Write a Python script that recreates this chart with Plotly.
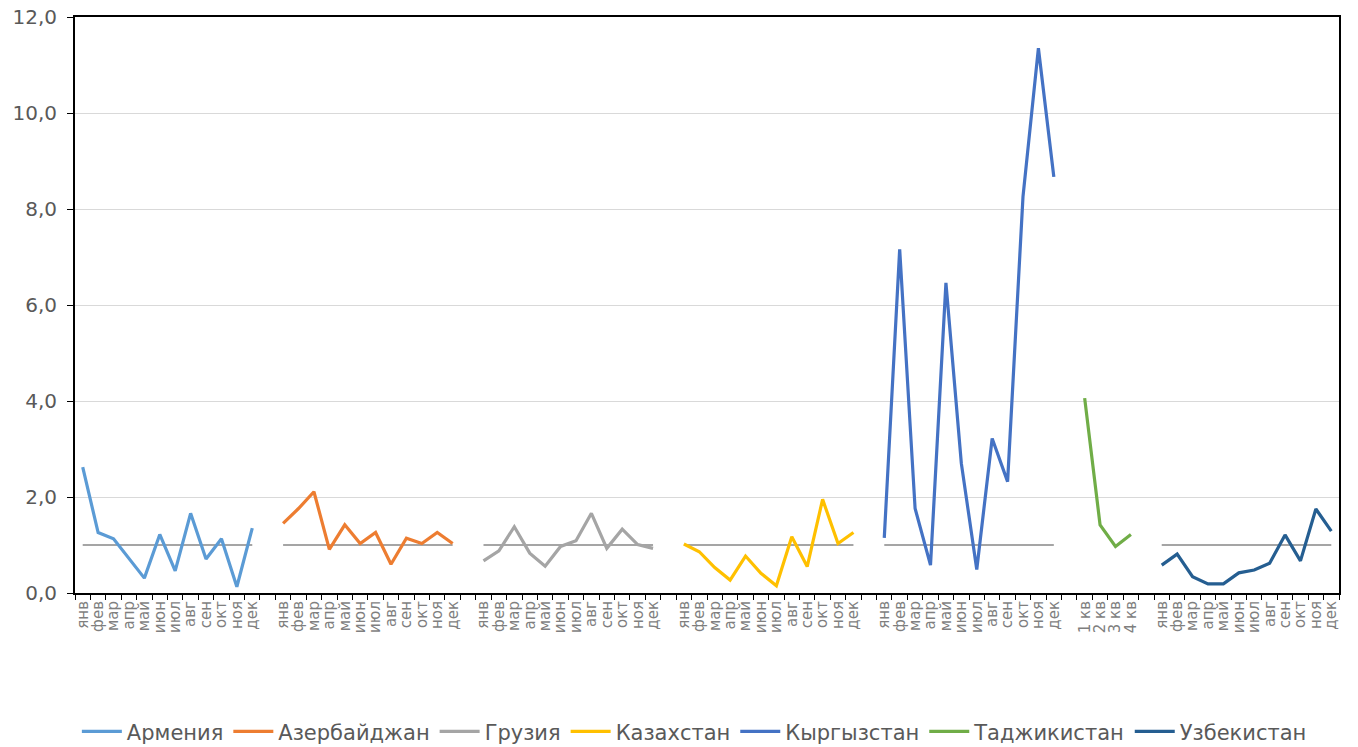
import plotly.graph_objects as go

months = ["янв", "фев", "мар", "апр", "май", "июн", "июл", "авг", "сен", "окт", "ноя", "дек"]
quarters = ["1 кв", "2 кв", "3 кв", "4 кв"]

countries = ["Армения", "Азербайджан", "Грузия", "Казахстан", "Кыргызстан", "Таджикистан", "Узбекистан"]

armenia = [2.62, 1.26, 1.13, 0.72, 0.31, 1.22, 0.46, 1.66, 0.71, 1.13, 0.13, 1.35]
azerbaijan = [1.45, 1.76, 2.11, 0.91, 1.42, 1.03, 1.26, 0.60, 1.14, 1.03, 1.26, 1.03]
georgia = [0.67, 0.88, 1.38, 0.83, 0.56, 0.97, 1.09, 1.66, 0.93, 1.33, 1.01, 0.93]
kazakhstan = [1.02, 0.86, 0.53, 0.27, 0.77, 0.41, 0.15, 1.17, 0.55, 1.95, 1.03, 1.26]
kyrgyzstan = [1.15, 7.16, 1.76, 0.58, 6.46, 2.70, 0.49, 3.22, 2.32, 8.26, 11.35, 8.67]
tajikistan = [4.06, 1.42, 0.97, 1.22]
uzbekistan = [0.58, 0.81, 0.34, 0.19, 0.19, 0.42, 0.48, 0.62, 1.21, 0.67, 1.75, 1.29]

reference_level = 1.0
has_reference = [True, True, True, True, True, False, True]

series_values = [armenia, azerbaijan, georgia, kazakhstan, kyrgyzstan, tajikistan, uzbekistan]
series_labels = [months, months, months, months, months, quarters, months]
colors = ["#5B9BD5", "#ED7D31", "#A5A5A5", "#FFC000", "#4472C4", "#70AD47", "#255E91"]

# build category positions: each group followed by one empty category
tick_text = []
group_x = []
pos = 0
for i, labels in enumerate(series_labels):
    xs = []
    for lab in labels:
        tick_text.append(lab)
        xs.append(pos)
        pos += 1
    group_x.append(xs)
    if i < len(series_labels) - 1:
        tick_text.append("")
        pos += 1
n_cat = pos
tick_vals = list(range(n_cat))

fig = go.Figure()

# reference lines at 1.0
for xs, ref in zip(group_x, has_reference):
    if ref:
        fig.add_trace(go.Scatter(
            x=xs, y=[reference_level] * len(xs), mode="lines",
            line=dict(color="#A5A5A5", width=2), showlegend=False, hoverinfo="skip"))

for name, xs, vals, col in zip(countries, group_x, series_values, colors):
    fig.add_trace(go.Scatter(
        x=xs, y=vals, mode="lines", name=name,
        line=dict(color=col, width=3.2)))

fig.update_layout(
    width=1358, height=747,
    margin=dict(l=75, r=19, t=17, b=154, autoexpand=False),
    paper_bgcolor="white", plot_bgcolor="white",
    separators=", ",
    font=dict(family="DejaVu Sans", color="#595959"),
    legend=dict(orientation="h", x=0.49, xanchor="center", y=-0.241, yanchor="middle",
                font=dict(size=21, color="#595959"), itemwidth=40, tracegroupgap=0),
    showlegend=True,
)

fig.update_xaxes(
    range=[-0.5, n_cat - 0.5], automargin=False,
    tickmode="array", tickvals=tick_vals, ticktext=tick_text,
    tickangle=-90, tickfont=dict(size=15, color="#7F7F7F"),
    ticks="", showgrid=False, zeroline=False,
    showline=True, linecolor="black", linewidth=2, mirror=True,
    minor=dict(tickmode="array", tickvals=[v - 0.5 for v in tick_vals] + [n_cat - 0.5],
               ticks="outside", ticklen=5, tickcolor="black", tickwidth=1, showgrid=False),
)

fig.update_yaxes(
    range=[0, 12], dtick=2, tickformat=".1f", automargin=False,
    tickfont=dict(size=20, color="#595959"), ticklabeloverflow="allow",
    ticks="outside", ticklen=6, tickcolor="black", ticklabelstandoff=6,
    showgrid=True, gridcolor="#D9D9D9", gridwidth=1, zeroline=False,
    showline=True, linecolor="black", linewidth=2, mirror=True,
)

fig.write_html("out.html", config={"displayModeBar": False},
               post_script="document.body.style.margin='0';document.body.style.overflow='hidden';")
